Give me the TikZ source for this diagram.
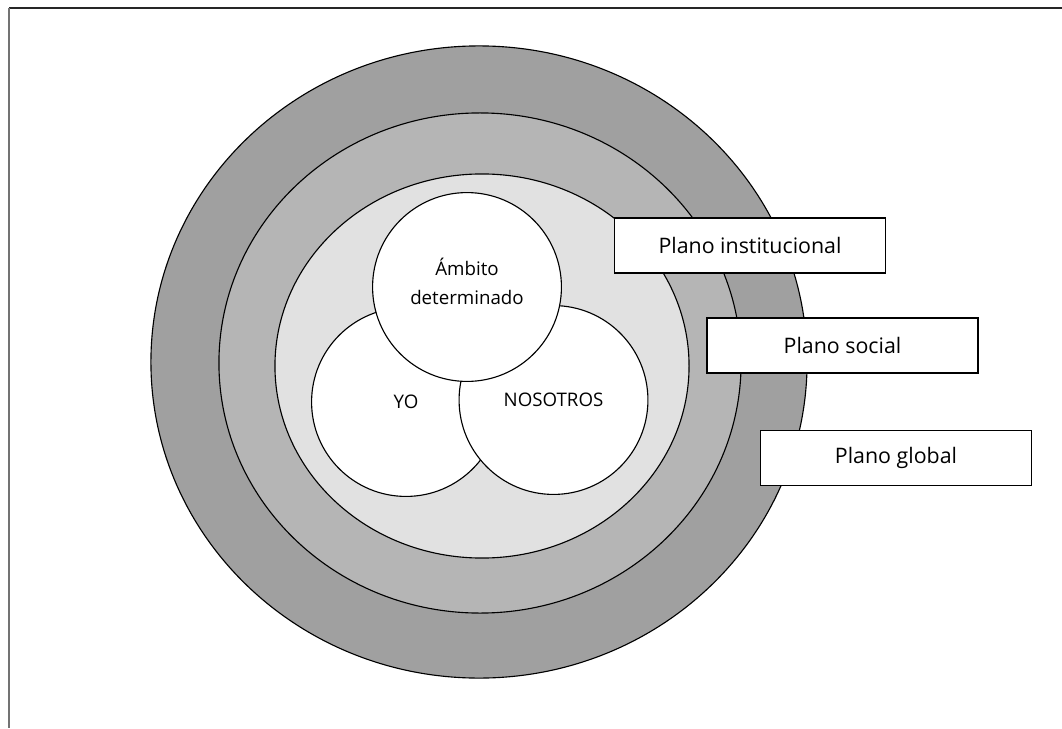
\documentclass[tikz,border=0pt]{standalone}
\usepackage{fontspec}
\setmainfont{Open Sans}
\usetikzlibrary{shapes.geometric}

\definecolor{globalgray}{RGB}{160,160,160}
\definecolor{socialgray}{RGB}{181,181,181}
\definecolor{instgray}{RGB}{225,225,225}

\begin{document}
\begin{tikzpicture}[x=0.025cm,y=-0.025cm,
    ring node/.style={ellipse,draw,line width=0.8pt,inner sep=0pt},
    main node/.style={circle,draw,fill=white,line width=0.8pt,inner sep=0pt,
      minimum size=4.72cm,font=\fontsize{13.3}{20.6}\selectfont},
    plano node/.style={rectangle,draw,fill=white,line width=0.8pt,
      minimum width=6.775cm,minimum height=1.375cm,
      font=\fontsize{15.2}{20}\selectfont}]

  \useasboundingbox (0,0) rectangle (1062,728);
  % frame
  \draw[black!85,line width=1.2pt] (9,8) -- (1062,8);
  \draw[black!55,line width=1.2pt] (9,8) -- (9,728);

  % planes
  \node[ring node,fill=globalgray,minimum width=16.4cm,minimum height=15.8cm] (GL) at (479,362) {};
  \node[ring node,fill=socialgray,minimum width=13.05cm,minimum height=12.5cm] (SO) at (480,363) {};
  \node[ring node,fill=instgray,minimum width=10.35cm,minimum height=9.6cm] (IN) at (482,366) {};

  % YO, NOSOTROS, ambito
  \node[main node] (YO) at (406,402) {YO};
  \node[main node] (NOS) at (553.5,400) {NOSOTROS};
  \node[main node] (AMB) at (467,287) {};
  \node[align=center,inner sep=0pt,font=\fontsize{13.3}{20.6}\selectfont] (AMBT) at (467,281) {Ámbito\\determinado};

  \node[plano node] (PIN) at (750,245.5) {Plano institucional};
  \node[plano node] (PSO) at (842.5,345.5) {Plano social};
  \node[plano node] (PGL) at (896,458) {Plano global};
\end{tikzpicture}
\end{document}
